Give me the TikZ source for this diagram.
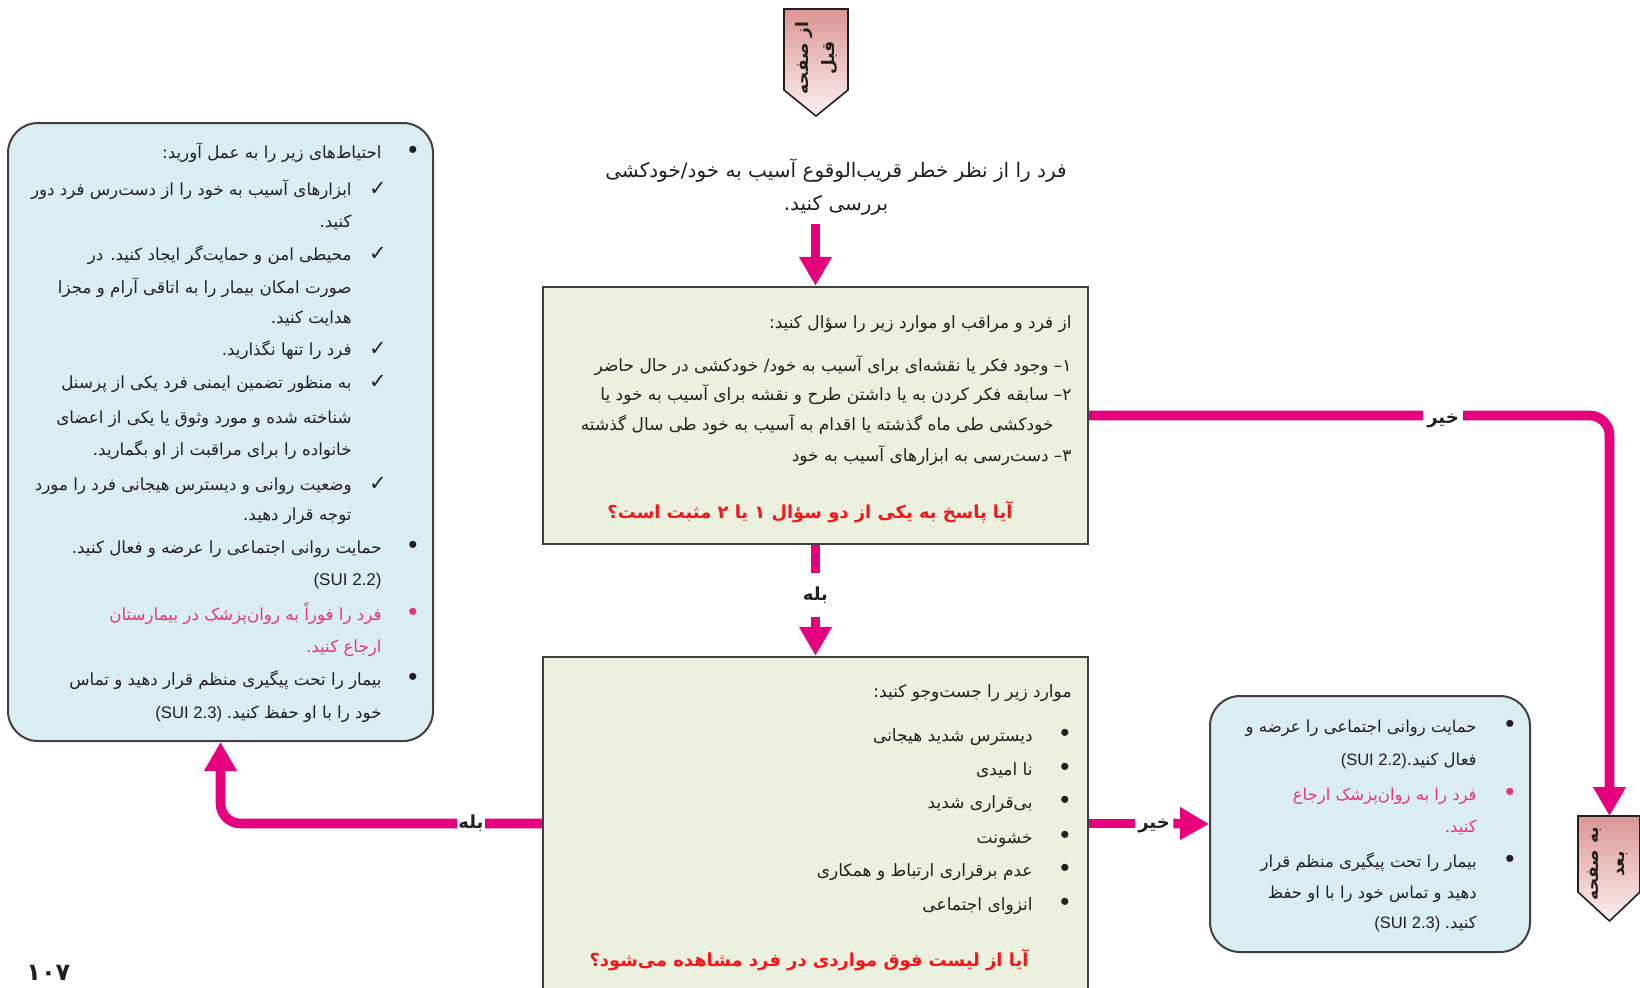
\documentclass[tikz,border=0pt]{standalone}
\usepackage{fontspec}
\setmainfont{Liberation Sans}
\newfontfamily\arabicfont[Script=Arabic]{DejaVu Sans}
\newfontfamily\dejavu{DejaVu Sans}
\TeXXeTstate=1
\usetikzlibrary{arrows.meta}
\newcommand\fa[1]{{\arabicfont\beginR #1\endR}}
\definecolor{mag}{RGB}{230,0,126}
\definecolor{pinktext}{RGB}{232,52,128}
\definecolor{qred}{RGB}{250,20,25}
\definecolor{ink}{RGB}{35,31,32}
\definecolor{greenfill}{RGB}{235,241,222}
\definecolor{bluefill}{RGB}{218,237,243}
\definecolor{framegray}{RGB}{64,64,64}
\definecolor{pentop}{RGB}{218,150,148}
\definecolor{penbot}{RGB}{252,240,240}
\begin{document}
\begin{tikzpicture}[x=0.5pt,y=-0.5pt,
  conn/.style={draw=mag,line width=4.8pt,rounded corners=10pt},
  arr/.style={-{Triangle[width=15.5pt,length=14.5pt]}},
  gbox/.style={draw=framegray,line width=1.2pt,fill=greenfill,inner sep=0pt},
  bbox/.style={draw=framegray,line width=1pt,fill=bluefill,rounded corners=15pt,inner sep=0pt},
  pent/.style={draw=ink,line width=0.8pt,top color=pentop,bottom color=penbot},
  pentxt/.style={rotate=90,align=center,inner sep=0pt,text=ink,font=\bfseries\fontsize{8.5}{13}\selectfont},
  ln/.style={anchor=base east,inner sep=0pt,text=ink,font=\fontsize{8.5}{11}\selectfont},
  lnl/.style={ln,font=\fontsize{8.35}{11}\selectfont},
  lnr/.style={ln,font=\fontsize{8.25}{11}\selectfont},
  lnp/.style={text=pinktext},
  bul/.style={anchor=base,inner sep=0pt,text=ink,font=\fontsize{13}{13}\selectfont},
  chk/.style={anchor=base,inner sep=0pt,text=ink,font=\dejavu\bfseries\fontsize{10.5}{11}\selectfont},
  ques/.style={anchor=base,inner sep=0pt,text=qred,font=\bfseries\fontsize{8.95}{12}\selectfont},
  lab/.style={inner sep=0pt,text=ink,font=\bfseries\fontsize{9}{11}\selectfont},
  toptxt/.style={align=center,inner sep=0pt,text=ink,font=\fontsize{10}{16.5}\selectfont}
]
\useasboundingbox (0,0) rectangle (1640,987);

% boxes
\node[gbox, minimum width=272.5pt, minimum height=128.5pt] (q1) at (815.5,415.5) {};
\node[gbox, minimum width=272.5pt, minimum height=166.5pt] (q2) at (815.5,823.5) {};
\node[bbox, minimum width=212.5pt, minimum height=309pt] (lb) at (220.5,432) {};
\node[bbox, minimum width=160pt, minimum height=128pt] (rb) at (1370,824) {};

% page connectors
\path[pent] (784,9) -- (848,9) -- (848,90) -- (816,116) -- (784,90) -- cycle;
\node[pentxt] (prevtxt) at (817,58) {\fa{از صفحه}\\\fa{قبل}};
\path[pent] (1578,816) -- (1640,816) -- (1640,892) -- (1609.5,921) -- (1578,892) -- cycle;
\coordinate (nextTop) at (1609.5,816);
\node[pentxt] (nexttxt) at (1608,864) {\fa{به صفحه}\\\fa{بعد}};

% top text
\node[toptxt] (toptext) at (836,187) {\fa{فرد را از نظر خطر قریب‌الوقوع آسیب به خود/خودکشی}\\\fa{بررسی کنید.}};

% box 1 text
\node[ln] (q1t) at (1072,328) {\fa{از فرد و مراقب او موارد زیر را سؤال کنید:}};
\node[ln] (q1a) at (1072,371) {\fa{۱\kern0pt– وجود فکر یا نقشه‌ای برای آسیب به خود/ خودکشی در حال حاضر}};
\node[ln] (q1b) at (1072,400) {\fa{۲\kern0pt– سابقه فکر کردن به یا داشتن طرح و نقشه برای آسیب به خود یا}};
\node[ln] (q1c) at (1054,430) {\fa{خودکشی طی ماه  گذشته یا اقدام به آسیب به خود طی سال گذشته}};
\node[ln] (q1d) at (1072,461) {\fa{۳\kern0pt– دست‌رسی به ابزارهای آسیب به خود}};
\node[ques] (q1q) at (810,518) {\fa{آیا پاسخ به یکی از دو سؤال ۱ یا ۲ مثبت است؟}};

% box 2 text
\node[ln] (q2t) at (1072,697) {\fa{موارد زیر را جست‌وجو کنید:}};
\node[bul] (q2b1) at (1065,741) {•};
\node[ln] (q2l1) at (1033,741) {\fa{دیسترس شدید هیجانی}};
\node[bul] (q2b2) at (1065,775) {•};
\node[ln] (q2l2) at (1033,775) {\fa{نا امیدی}};
\node[bul] (q2b3) at (1065,808) {•};
\node[ln] (q2l3) at (1033,808) {\fa{بی‌قراری شدید}};
\node[bul] (q2b4) at (1065,843) {•};
\node[ln] (q2l4) at (1033,843) {\fa{خشونت}};
\node[bul] (q2b5) at (1065,876) {•};
\node[ln] (q2l5) at (1033,876) {\fa{عدم برقراری ارتباط و همکاری}};
\node[bul] (q2b6) at (1065,910) {•};
\node[ln] (q2l6) at (1033,910) {\fa{انزوای اجتماعی}};
\node[ques] (q2q) at (809,966) {\fa{آیا از لیست فوق مواردی در فرد مشاهده می‌شود؟}};

% left box text
\node[bul] (lbb1) at (413,158) {•};
\node[lnl] (lb1) at (382,158) {\fa{احتیاط‌های زیر را به عمل آورید:}};
\node[chk] (lbc1) at (378,195) {✓};
\node[lnl] (lb2) at (352,195) {\fa{ابزارهای آسیب به خود را از دست‌رس فرد دور}};
\node[lnl] (lb3) at (352,227) {\fa{کنید.}};
\node[chk] (lbc2) at (378,260) {✓};
\node[lnl] (lb4) at (352,260) {\fa{محیطی امن و حمایت‌گر ایجاد کنید. در}};
\node[lnl] (lb5) at (352,293) {\fa{صورت امکان بیمار را به اتاقی آرام و مجزا}};
\node[lnl] (lb6) at (352,323) {\fa{هدایت کنید.}};
\node[chk] (lbc3) at (378,355) {✓};
\node[lnl] (lb7) at (352,355) {\fa{فرد را تنها نگذارید.}};
\node[chk] (lbc4) at (378,388) {✓};
\node[lnl] (lb8) at (352,388) {\fa{به منظور تضمین ایمنی فرد یکی از پرسنل}};
\node[lnl] (lb9) at (352,423) {\fa{شناخته شده و مورد وثوق یا یکی از اعضای}};
\node[lnl] (lb10) at (352,455) {\fa{خانواده را برای مراقبت از او بگمارید.}};
\node[chk] (lbc5) at (378,490) {✓};
\node[lnl] (lb11) at (352,490) {\fa{وضعیت روانی و دیسترس هیجانی فرد را مورد}};
\node[lnl] (lb12) at (352,520) {\fa{توجه قرار دهید.}};
\node[bul] (lbb2) at (413,553) {•};
\node[lnl] (lb13) at (382,553) {\fa{حمایت روانی اجتماعی را عرضه و فعال کنید.}};
\node[ln] (lb14) at (382,585) {(SUI 2.2)};
\node[bul,text=pinktext] (lbb3) at (413,620) {•};
\node[lnl,lnp] (lb15) at (382,620) {\fa{فرد را فوراً به روان‌پزشک در بیمارستان}};
\node[lnl,lnp] (lb16) at (382,652) {\fa{ارجاع کنید.}};
\node[bul] (lbb4) at (413,685) {•};
\node[lnl] (lb17) at (382,685) {\fa{بیمار را تحت پیگیری منظم قرار دهید و تماس}};
\node[lnl] (lb18) at (382,718) {(SUI 2.3) \fa{خود را با او حفظ کنید.}};

% right box text
\node[bul] (rbb1) at (1510,732) {•};
\node[lnr] (rb1) at (1477,732) {\fa{حمایت روانی اجتماعی را عرضه و}};
\node[lnr] (rb2) at (1477,765) {(SUI 2.2)\fa{فعال کنید.}};
\node[bul,text=pinktext] (rbb2) at (1510,800) {•};
\node[lnr,lnp] (rb3) at (1477,800) {\fa{فرد را به روان‌پزشک ارجاع}};
\node[lnr,lnp] (rb4) at (1477,832) {\fa{کنید.}};
\node[bul] (rbb3) at (1510,867) {•};
\node[lnr] (rb5) at (1477,867) {\fa{بیمار را تحت پیگیری منظم قرار}};
\node[lnr] (rb6) at (1477,898) {\fa{دهید و تماس خود را با او حفظ}};
\node[lnr] (rb7) at (1477,928) {(SUI 2.3) \fa{کنید.}};

% connectors
\coordinate (s0) at (815.5,224);
\draw[conn,arr] (s0) -- (q1.north);
\node[lab, minimum height=22pt] (yes1) at (815.5,595) {\fa{بله}};
\draw[conn] (q1.south) -- (yes1.north);
\draw[conn,arr] (yes1.south) -- (q2.north);
\draw[conn,arr] (q1.east) -| (nextTop);
\node[lab, fill=white, minimum width=20pt, minimum height=14pt] (no1) at (1443,421) {\fa{خیر}};
\draw[conn,arr] (q2.west) -| (lb.south);
\node[lab, fill=white, minimum width=14pt, minimum height=14pt] (yes2) at (471,823.5) {\fa{بله}};
\node[lab, minimum width=19pt] (no2) at (1154,826) {\fa{خیر}};
\draw[conn] (q2.east) -- (q2.east -| no2.west);
\draw[conn,arr] (q2.east -| no2.east) -- (rb.west);

% page number
\node[anchor=base west,inner sep=0pt,text=ink,font=\arabicfont\bfseries\fontsize{12}{14}\selectfont] (pg) at (26,980) {۱۰۷};
\end{tikzpicture}
\end{document}
